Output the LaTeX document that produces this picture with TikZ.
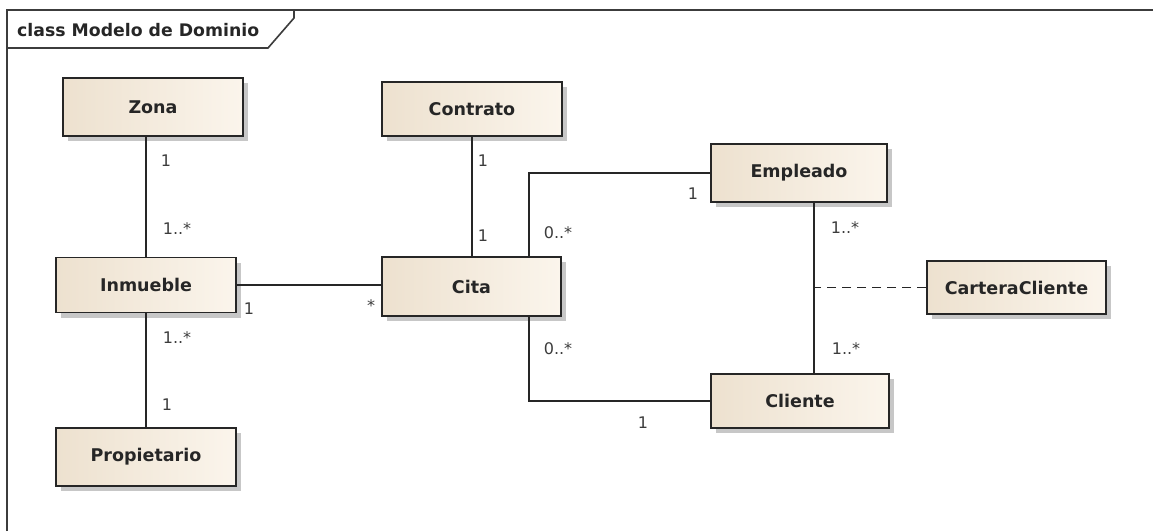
\documentclass[tikz,border=0pt]{standalone}
\usepackage{fontspec}
\setmainfont{DejaVu Sans}
\usetikzlibrary{shadows}
\definecolor{boxleft}{HTML}{EDE1CF}
\definecolor{boxright}{HTML}{FBF5EC}
\definecolor{ink}{HTML}{262626}
\definecolor{framecol}{HTML}{3C3C3C}
\tikzset{
  classbox/.style={draw=ink, line width=1.6pt, left color=boxleft, right color=boxright,
    minimum width=180pt, minimum height=56pt, inner sep=0pt, text=ink,
    font=\fontsize{17.5}{20}\selectfont\bfseries,
    drop shadow={shadow xshift=5pt, shadow yshift=-5pt, fill=black!22, opacity=1}},
  assoc/.style={draw=ink, line width=1.5pt},
  mult/.style={text=ink!90, inner sep=0pt, font=\fontsize{16}{18}\selectfont},
  frameline/.style={draw=framecol, line width=1.6pt}
}
\begin{document}
\begin{tikzpicture}[x=1pt, y=-1pt]
\useasboundingbox (0,0) rectangle (1153,531);
% package frame and name tab
\draw[frameline] (7,531) -- (7,10) -- (1153,10);
\draw[frameline] (7,48) -- (268,48) -- (294,18) -- (294,10);
\node[anchor=west, inner sep=0pt, text=ink, font=\fontsize{17.3}{19}\selectfont\bfseries]
  (title) at (17,30) {class Modelo de Dominio};

% classes
\node[classbox, minimum height=58pt] (zona) at (153,107) {Zona};
\node[classbox, minimum width=180pt, minimum height=54pt] (contrato) at (472,109) {Contrato};
\node[classbox, minimum width=180pt, minimum height=55pt] (inmueble) at (146,285) {Inmueble};
\node[classbox, minimum width=179pt, minimum height=59pt] (cita) at (471.5,286.5) {Cita};
\node[classbox, minimum width=180pt, minimum height=58pt] (propietario) at (146,457) {Propietario};
\node[classbox, minimum width=176pt, minimum height=58pt] (empleado) at (799,173) {Empleado};
\node[classbox, minimum width=178pt, minimum height=54pt] (cliente) at (800,401) {Cliente};
\node[classbox, minimum width=179pt, minimum height=53pt] (cartera) at (1016.5,287.5) {CarteraCliente};

% attachment points
\coordinate (citaTop) at ([xshift=-33pt]cita.north east);
\coordinate (citaBot) at ([xshift=-33pt]cita.south east);
\coordinate (empCli) at ([xshift=15pt]empleado.south);

% associations
\draw[assoc] (inmueble.north) -- (inmueble.north |- zona.south);
\draw[assoc] (inmueble.south) -- (inmueble.south |- propietario.north);
\draw[assoc] (inmueble.east) -- (inmueble.east -| cita.west);
\draw[assoc] (contrato.south) -- (contrato.south |- cita.north);
\draw[assoc] (citaTop) |- (empleado.west);
\draw[assoc] (citaBot) |- (cliente.west);
\draw[assoc] (empCli) -- (empCli |- cliente.north);
\draw[assoc, dashed, dash pattern=on 9pt off 6pt] (cartera.west) -- (cartera.west -| empCli);

% multiplicities
\node[mult] (m1) at (166,161) {1};
\node[mult] (m2) at (177,229) {1..*};
\node[mult] (m3) at (249,309) {1};
\node[mult] (m4) at (371,306) {*};
\node[mult] (m5) at (177,338) {1..*};
\node[mult] (m6) at (167,405) {1};
\node[mult] (m7) at (483,161) {1};
\node[mult] (m8) at (483,236) {1};
\node[mult] (m9) at (558,233) {0..*};
\node[mult] (m10) at (693,194) {1};
\node[mult] (m11) at (845,228) {1..*};
\node[mult] (m12) at (846,349) {1..*};
\node[mult] (m13) at (558,349) {0..*};
\node[mult] (m14) at (643,423) {1};
\end{tikzpicture}
\end{document}
